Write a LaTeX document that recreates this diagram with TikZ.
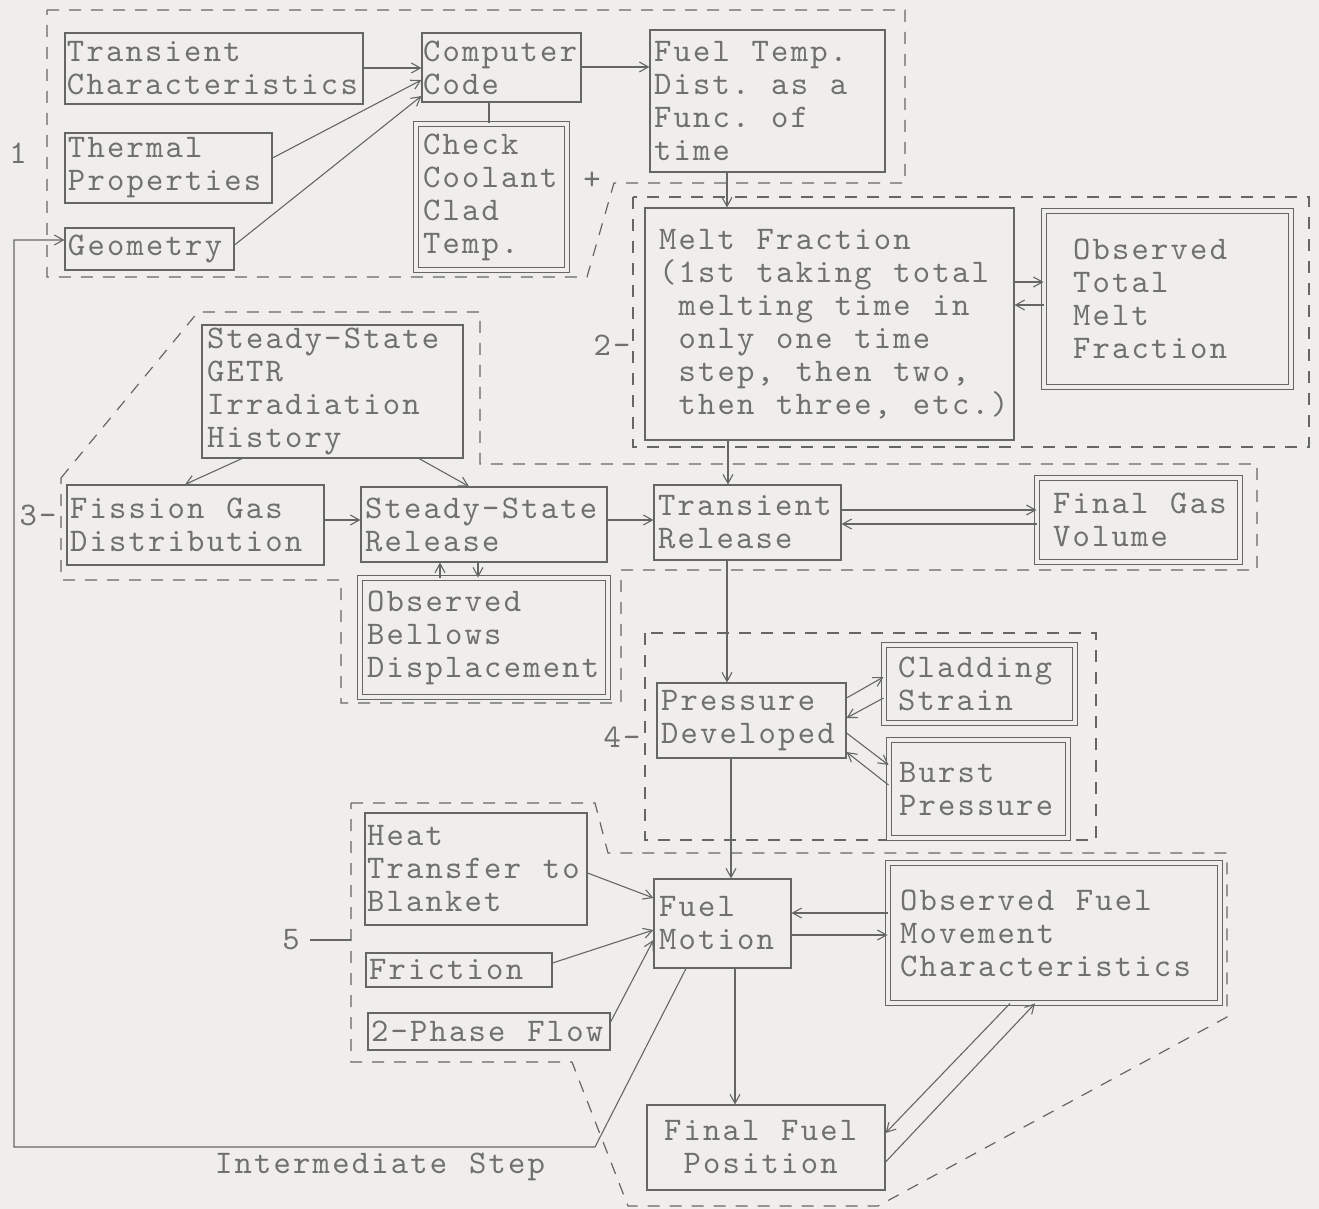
\documentclass[tikz,border=0pt]{standalone}
\usepackage{fontspec}
\newfontfamily\twfont{lmmono10-regular}[Extension=.otf, LetterSpace=6.7]
\newcommand\tsp{\char32\relax}
\usetikzlibrary{arrows.meta}
\definecolor{paper}{HTML}{EFEEEA}
\definecolor{ink}{HTML}{666666}
\definecolor{txt}{HTML}{707070}
\tikzset{
  tw/.style={font={\fontsize{16.5}{16.5}\selectfont\twfont\lineskiplimit=-100pt\relax}, text=txt},
  blk/.style={tw, draw=ink, line width=0.55pt, rectangle, align=left, inner ysep=0pt},
  dblk/.style={blk, double=paper, double distance=1.8pt, line width=0.5pt},
  conn/.style={draw=ink, line width=0.55pt},
  arr/.style={conn, -{Straight Barb[length=4.5pt,width=5pt]}},
  grp/.style={draw=ink, line width=0.6pt, dash pattern=on 6pt off 5pt},
  lbl/.style={tw, inner sep=0pt},
}
\begin{document}
\begin{tikzpicture}[x=0.5pt,y=-0.5pt]
\fill[paper] (0,0) rectangle (1319,1209);
\useasboundingbox (0,0) rectangle (1319,1209);

% dashed groups
\draw[grp] (47,10) -- (905,10) -- (905,183) -- (614,183) -- (587,277) -- (47,277) -- cycle;
\draw[grp] (633,197) rectangle (1309,447);
\draw[grp] (61,478) -- (198,312) -- (480,312) -- (480,464) -- (1257,464) -- (1257,570) -- (621,570) -- (621,703) -- (341,703) -- (341,580) -- (61,580) -- cycle;
\draw[grp] (645,633) rectangle (1096,840);
\draw[grp] (351,803) -- (595,803) -- (608,853) -- (1227,853) -- (1227,1017) -- (878,1206) -- (628,1206) -- (572,1062) -- (351,1062) -- cycle;

% group 1
\node[blk, text width=147pt, inner xsep=1pt, minimum height=35.5pt] (tc) at (214,68.5) {Transient\\Characteristics};
\node[blk, text width=100.5pt, inner xsep=1.5pt, minimum height=35pt] (tp) at (168.5,168) {Thermal\\Properties};
\node[blk, text width=81.5pt, inner xsep=1.5pt, minimum height=21pt] (geo) at (149.5,249) {Geometry};
\node[blk, text width=78.5pt, inner xsep=0.5pt, minimum height=34.5pt] (cc) at (501.5,67.5) {Computer\\Code};
\node[dblk, text width=68.5pt, inner xsep=3.5pt, minimum height=73pt] (ck) at (491.5,197) {Check\\Coolant\\Clad\\Temp.};
\node[blk, text width=113.5pt, inner xsep=2pt, minimum height=71pt] (ft) at (767.5,101) {Fuel\tsp Temp.\\Dist.\tsp as\tsp a\\Func.\tsp of\\time};

% group 2
\node[blk, text width=170.5pt, inner xsep=7pt, minimum height=116pt] (mf) at (829.5,324) {Melt\tsp Fraction\\(1st\tsp taking\tsp total\\\tsp melting\tsp time\tsp in\\\tsp only\tsp one\tsp time\\\tsp step,\tsp then\tsp two,\\\tsp then\tsp three,\tsp etc.)};
\node[dblk, text width=94.5pt, inner xsep=14.5pt, minimum height=88pt] (otm) at (1167.5,299) {Observed\\Total\\Melt\\Fraction};

% group 3
\node[blk, text width=125.5pt, inner xsep=2.5pt, minimum height=66.5pt] (hist) at (332.5,391.5) {Steady-State\\GETR\\Irradiation\\History};
\node[blk, text width=125.5pt, inner xsep=1.5pt, minimum height=40pt] (fg) at (195.5,525) {Fission\tsp Gas\\Distribution};
\node[blk, text width=119pt, inner xsep=2pt, minimum height=37.5pt] (ssr) at (484,524.5) {Steady-State\\Release};
\node[dblk, text width=117pt, inner xsep=3.5pt, minimum height=59.5pt] (obd) at (484,637.5) {Observed\\Bellows\\Displacement};
\node[blk, text width=89.5pt, inner xsep=2pt, minimum height=37.5pt] (tr) at (747.5,522.5) {Transient\\Release};
\node[dblk, text width=85.5pt, inner xsep=8pt, minimum height=42pt] (fgv) at (1138.5,520) {Final\tsp Gas\\Volume};

% group 4
\node[blk, text width=90.5pt, inner xsep=2pt, minimum height=37.5pt] (pd) at (751.5,720.5) {Pressure\\Developed};
\node[dblk, text width=81.5pt, inner xsep=7pt, minimum height=39pt] (cs) at (979.5,684) {Cladding\\Strain};
\node[dblk, text width=79.5pt, inner xsep=5pt, minimum height=49pt] (bp) at (978.5,789) {Burst\\Pressure};

% group 5
\node[blk, text width=109pt, inner xsep=1pt, minimum height=56pt] (ht) at (476,869) {Heat\\Transfer\tsp to\\Blanket};
\node[blk, text width=90pt, inner xsep=1.5pt, minimum height=17pt] (fr) at (459,970) {Friction};
\node[blk, text width=118pt, inner xsep=1.5pt, minimum height=18.5pt] (pf) at (489,1031.5) {2-Phase\tsp Flow};
\node[blk, text width=63.5pt, inner xsep=2.5pt, minimum height=44.5pt] (fm) at (722.5,923.5) {Fuel\\Motion};
\node[dblk, text width=154pt, inner xsep=6pt, minimum height=70pt] (ofm) at (1054,933) {Observed\tsp Fuel\\Movement\\Characteristics};
\node[blk, text width=102pt, inner xsep=8.5pt, minimum height=42.5pt] (ffp) at (766,1147.5) {Final\tsp Fuel\\\tsp Position};

% labels
\node[lbl] (l1) at (18,153) {1};
\node[lbl] (l2) at (612,345) {2-};
\node[lbl] (l3) at (38,515) {3-};
\node[lbl] (l4) at (622,737) {4-};
\node[lbl] (l5) at (291,940) {5};
\node[lbl] (plus) at (592,181) {+};
\node[lbl] (inter) at (380,1167) {Intermediate\tsp Step};
\coordinate (g5) at (351,940);
\draw[conn] ([xshift=5pt]l5.east) -- (g5);

% connectors group 1
\draw[arr] (tc.east |- 0,68) -- (cc.west |- 0,68);
\draw[arr] (tp.east |- 0,158) -- (cc.west |- 0,80);
\draw[arr] (geo.east |- 0,245) -- (cc.west |- 0,96);
\draw[arr] (cc.east |- 0,67) -- (ft.west |- 0,67);
\draw[conn] (cc.south -| 489,0) -- (ck.north -| 489,0);
\draw[arr] (ft.south -| 727,0) -- (mf.north -| 727,0);

% group 2
\draw[arr] (mf.east |- 0,282) -- (otm.west |- 0,282);
\draw[arr] (otm.west |- 0,305) -- (mf.east |- 0,305);
\draw[arr] (mf.south -| 728,0) -- (tr.north -| 728,0);

% group 3
\draw[arr] (hist.south -| 242,0) -- (fg.north -| 185,0);
\draw[arr] (hist.south -| 419,0) -- (ssr.north -| 469,0);
\draw[arr] (fg.east |- 0,520) -- (ssr.west |- 0,520);
\draw[arr] (ssr.east |- 0,520) -- (tr.west |- 0,520);
\draw[arr] (tr.east |- 0,510) -- (fgv.west |- 0,510);
\draw[arr] (fgv.west |- 0,524) -- (tr.east |- 0,524);
\draw[arr] (obd.north -| 440,0) -- (ssr.south -| 440,0);
\draw[arr] (ssr.south -| 478,0) -- (obd.north -| 478,0);
\draw[arr] (tr.south -| 727,0) -- (pd.north -| 727,0);

% group 4
\draw[arr] (pd.east |- 0,698) -- (cs.west |- 0,677);
\draw[arr] (cs.west |- 0,698) -- (pd.east |- 0,718);
\draw[arr] (pd.east |- 0,733) -- (bp.west |- 0,765);
\draw[arr] (bp.west |- 0,785) -- (pd.east |- 0,752);
\draw[arr] (pd.south -| 731,0) -- (fm.north -| 731,0);

% group 5
\draw[arr] (ht.east |- 0,873) -- (fm.west |- 0,898);
\draw[arr] (fr.east |- 0,963) -- (fm.west |- 0,930);
\draw[arr] (pf.east |- 0,1022) -- (fm.west |- 0,940);
\draw[arr] (ofm.west |- 0,913) -- (fm.east |- 0,913);
\draw[arr] (fm.east |- 0,935) -- (ofm.west |- 0,935);
\draw[arr] (fm.south -| 735,0) -- (ffp.north -| 735,0);
\draw[arr] (ofm.south -| 1010,0) -- (ffp.east |- 0,1133);
\draw[arr] (ffp.east |- 0,1162) -- (ofm.south -| 1035,0);

% feedback loop
\coordinate (fb1) at (595,1147);
\coordinate (fb2) at (14,1147);
\coordinate (fb3) at (14,240);
\draw[arr] (fm.south -| 686,0) -- (fb1) -- (fb2) -- (fb3) -- (geo.west |- fb3);
\end{tikzpicture}
\end{document}
